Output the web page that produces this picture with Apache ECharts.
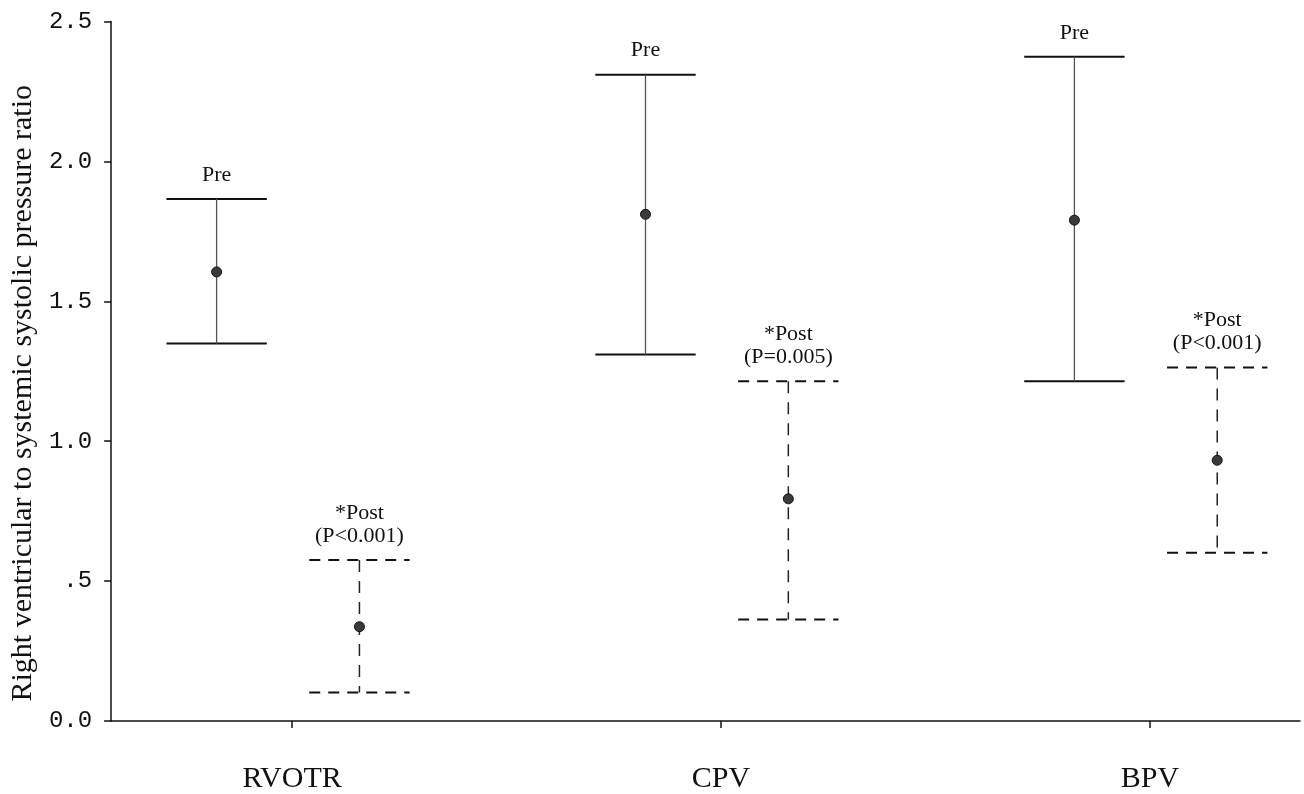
<!DOCTYPE html>
<html>
<head>
<meta charset="utf-8">
<style>
  html, body { margin: 0; padding: 0; background: #fff; }
  #chart { width: 1304px; height: 794px; }
</style>
<script src="https://cdn.jsdelivr.net/npm/echarts@6/dist/echarts.min.js"></script>
</head>
<body>
<div id="chart"></div>
<script>
// Groups along the x axis
const categories = ['RVOTR', 'CPV', 'BPV'];

// Pre-procedure ratio: mean with lower / upper limits
const preMean = [1.605, 1.811, 1.790];
const preLow  = [1.349, 1.310, 1.214];
const preHigh = [1.866, 2.310, 2.374];

// Post-procedure ratio: mean with lower / upper limits
const postMean = [0.337, 0.794, 0.932];
const postLow  = [0.102, 0.363, 0.601];
const postHigh = [0.575, 1.214, 1.263];

// Labels above each bar
const preLabel = 'Pre';
const postLabel = '*Post';
const pValues = ['(P<0.001)', '(P=0.005)', '(P<0.001)'];

// Y axis tick texts
const yTickLabels = ['0.0', '.5', '1.0', '1.5', '2.0', '2.5'];

// Layout constants (x units: one unit per group)
const PRE_OFFSET = -0.176;
const POST_OFFSET = 0.157;
const CAP_HALF = 0.117;

const serif = '"Liberation Serif", "Times New Roman", serif';

function buildItems(offset, lo, mid, hi) {
  return categories.map((c, i) => [i + 1 + offset, lo[i], mid[i], hi[i]]);
}

function makeRenderer(kind) {
  const dashed = kind === 'post';
  return function (params, api) {
    const x = api.value(0);
    const lo = api.value(1), mid = api.value(2), hi = api.value(3);
    const pTop = api.coord([x, hi]);
    const pBot = api.coord([x, lo]);
    const pMid = api.coord([x, mid]);
    const half = api.size([CAP_HALF, 0])[0];
    const capStyle = dashed
      ? { stroke: '#111', lineWidth: 2, lineDash: [11, 8] }
      : { stroke: '#111', lineWidth: 2 };
    const stemStyle = dashed
      ? { stroke: '#222', lineWidth: 1.5, lineDash: [12, 9] }
      : { stroke: '#555', lineWidth: 1.3 };
    const children = [
      { type: 'line', shape: { x1: pTop[0] - half, y1: pTop[1], x2: pTop[0] + half, y2: pTop[1] }, style: capStyle },
      { type: 'line', shape: { x1: pBot[0] - half, y1: pBot[1], x2: pBot[0] + half, y2: pBot[1] }, style: capStyle },
      { type: 'line', shape: { x1: pTop[0], y1: pTop[1], x2: pBot[0], y2: pBot[1] }, style: stemStyle },
      { type: 'circle', shape: { cx: pMid[0], cy: pMid[1], r: 5 }, style: { fill: '#3a3a3a', stroke: '#111', lineWidth: 1 } }
    ];
    if (dashed) {
      children.push(
        { type: 'text', style: { text: postLabel, x: pTop[0], y: pTop[1] - 47, align: 'center', verticalAlign: 'middle', font: '22px ' + serif, fill: '#111' } },
        { type: 'text', style: { text: pValues[params.dataIndex], x: pTop[0], y: pTop[1] - 24, align: 'center', verticalAlign: 'middle', font: '22px ' + serif, fill: '#111' } }
      );
    } else {
      children.push(
        { type: 'text', style: { text: preLabel, x: pTop[0], y: pTop[1] - 24, align: 'center', verticalAlign: 'middle', font: '22px ' + serif, fill: '#111' } }
      );
    }
    return { type: 'group', children: children };
  };
}

const chart = echarts.init(document.getElementById('chart'), null, { renderer: 'canvas' });

chart.setOption({
  backgroundColor: '#ffffff',
  animation: false,
  grid: { left: 105, right: 4, top: 21.5, bottom: 70, containLabel: false },
  xAxis: {
    type: 'value',
    min: 0.578,
    max: 3.350,
    splitLine: { show: false },
    axisLine: { show: true, onZero: false, lineStyle: { color: '#111', width: 1.5 } },
    axisTick: { show: true, customValues: [1, 2, 3], length: 7, lineStyle: { color: '#111', width: 1.5 } },
    axisLabel: {
      show: true,
      customValues: [1, 2, 3],
      margin: 43,
      formatter: v => categories[Math.round(v) - 1],
      fontFamily: serif,
      fontSize: 30,
      color: '#111'
    }
  },
  yAxis: {
    type: 'value',
    min: 0,
    max: 2.5,
    interval: 0.5,
    name: 'Right ventricular to systemic systolic pressure ratio',
    nameLocation: 'middle',
    nameRotate: 90,
    nameGap: 72,
    nameTextStyle: { fontFamily: serif, fontSize: 30, color: '#111', padding: [0, 44, 0, 0] },
    splitLine: { show: false },
    axisLine: { show: true, lineStyle: { color: '#111', width: 1.5 } },
    axisTick: { show: true, length: 7, lineStyle: { color: '#111', width: 1.5 } },
    axisLabel: {
      margin: 19,
      formatter: v => yTickLabels[Math.round(v / 0.5)],
      fontFamily: '"Liberation Mono", "Courier New", monospace',
      fontSize: 24,
      color: '#111'
    }
  },
  series: [
    {
      name: 'Pre',
      type: 'custom',
      renderItem: makeRenderer('pre'),
      encode: { x: 0, y: [1, 2, 3] },
      data: buildItems(PRE_OFFSET, preLow, preMean, preHigh),
      clip: false
    },
    {
      name: 'Post',
      type: 'custom',
      renderItem: makeRenderer('post'),
      encode: { x: 0, y: [1, 2, 3] },
      data: buildItems(POST_OFFSET, postLow, postMean, postHigh),
      clip: false
    }
  ]
});
</script>
</body>
</html>
